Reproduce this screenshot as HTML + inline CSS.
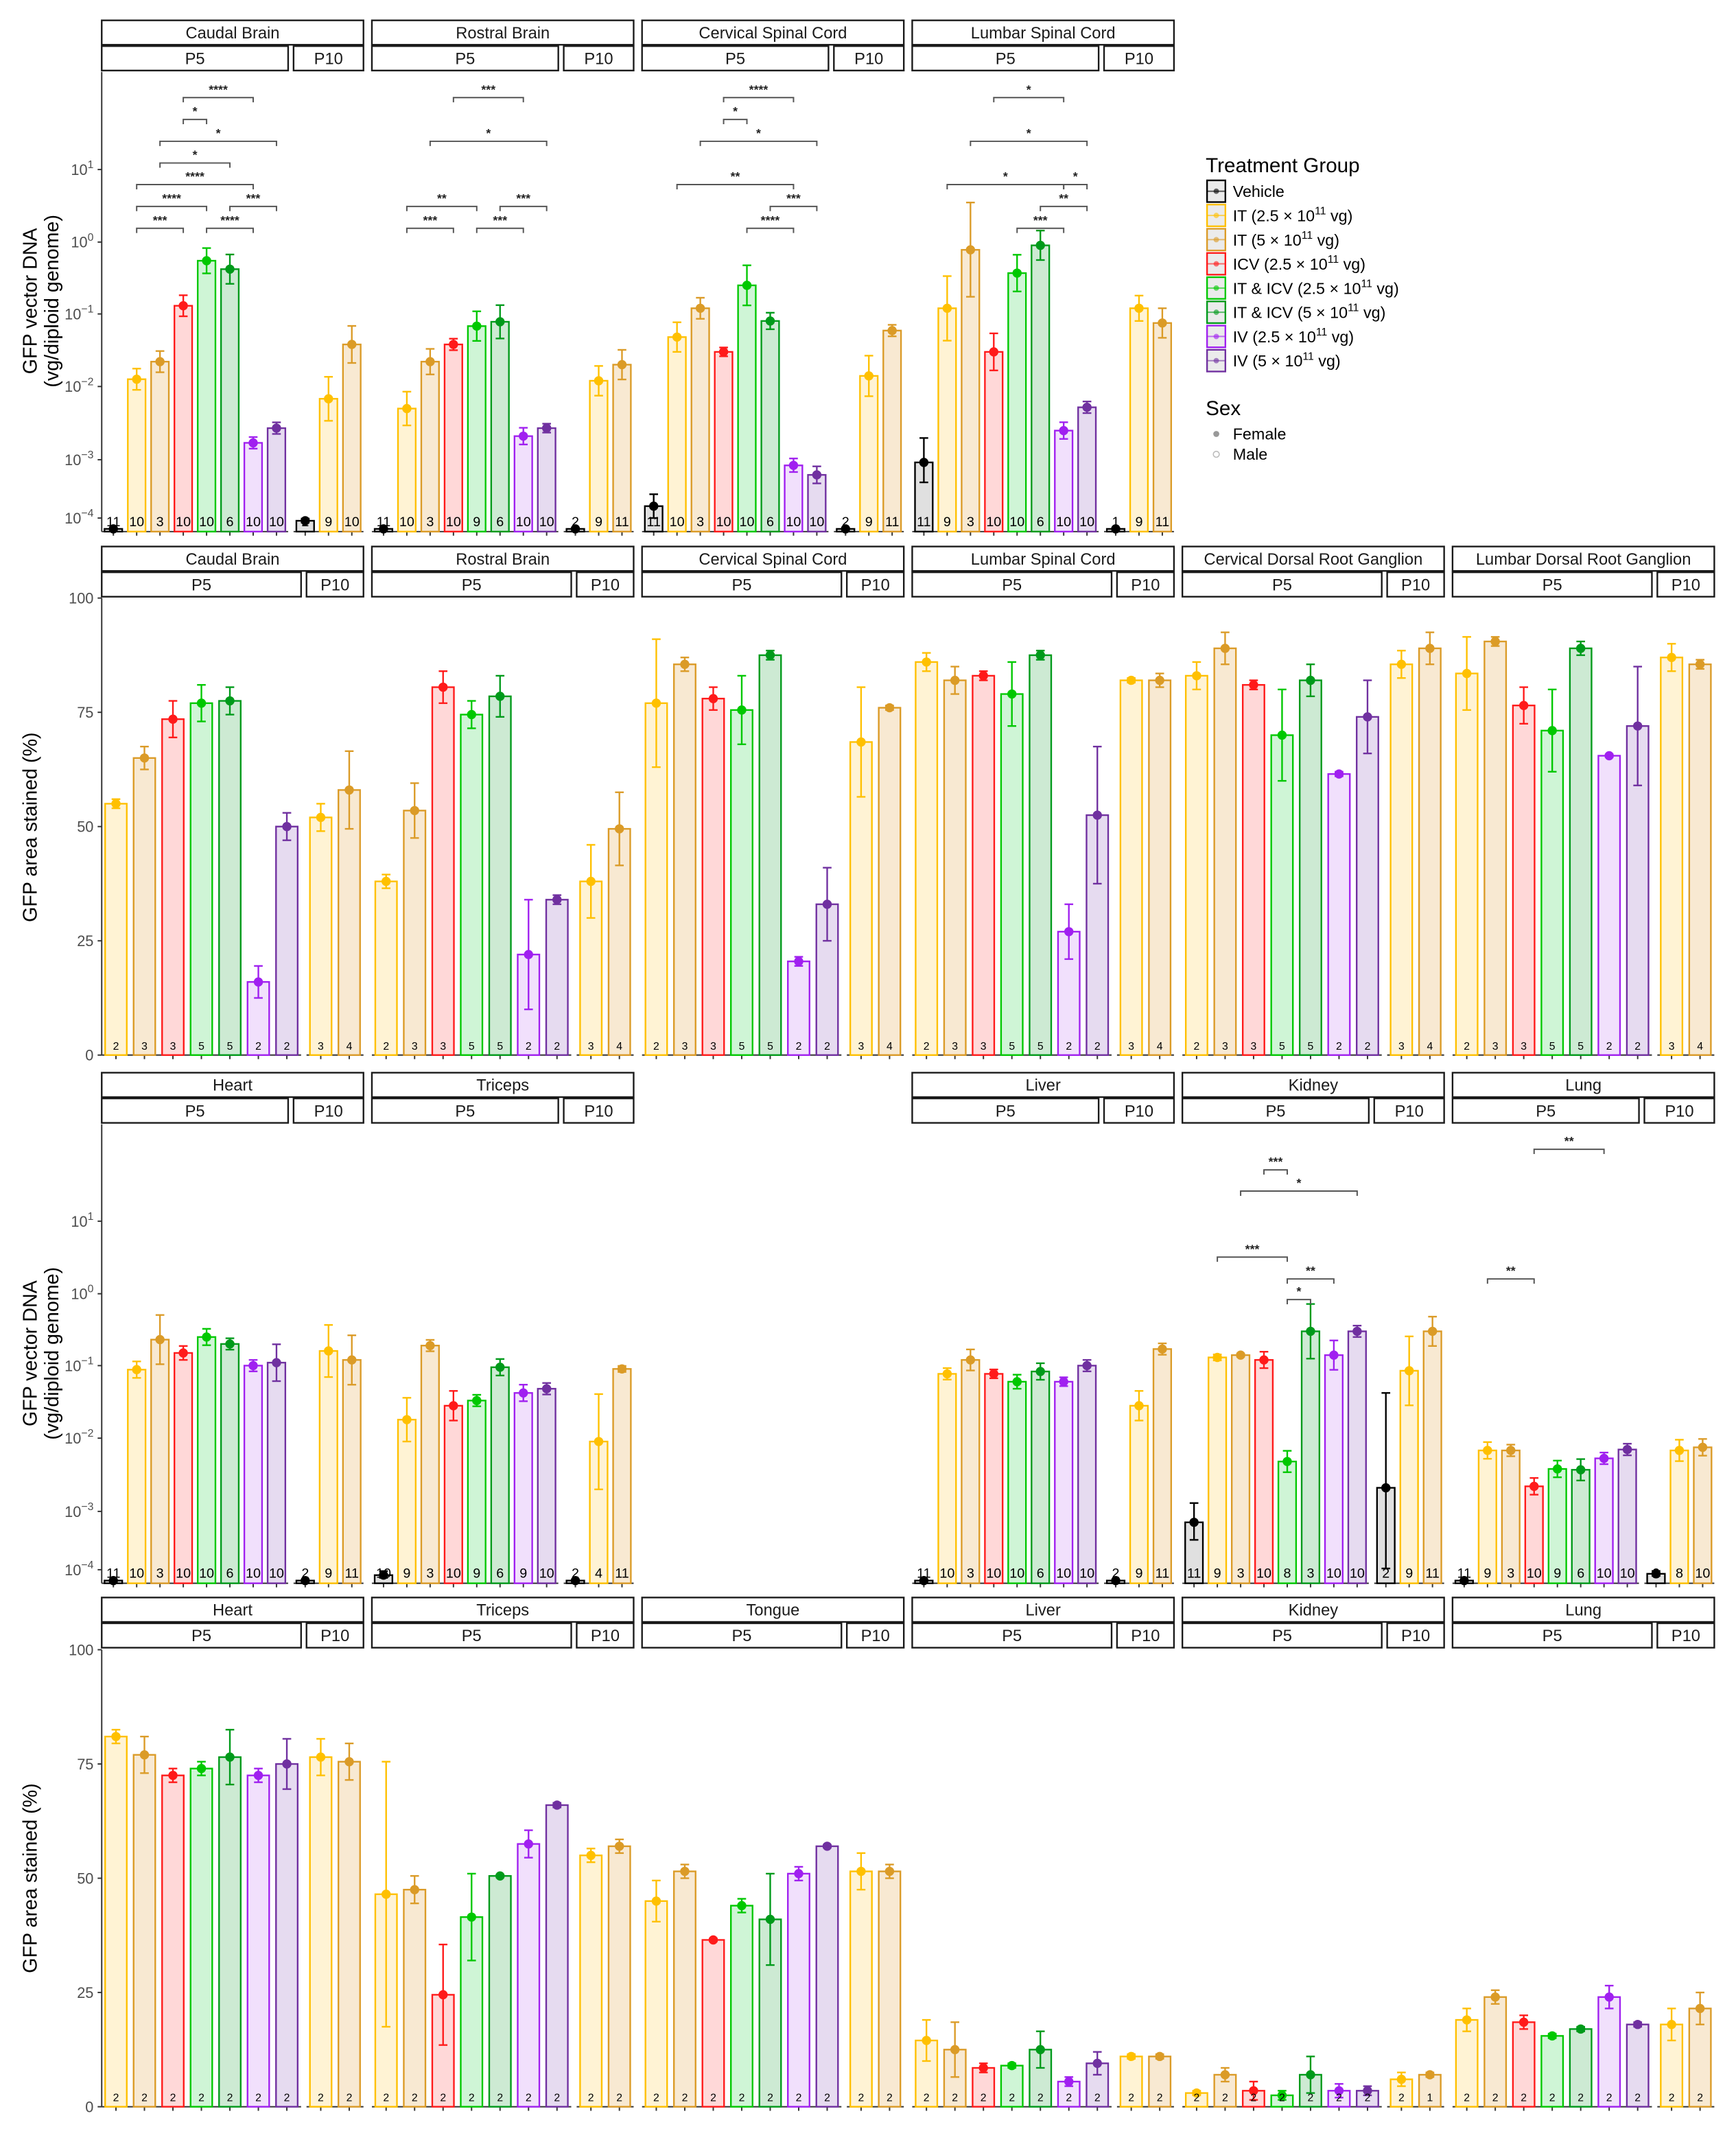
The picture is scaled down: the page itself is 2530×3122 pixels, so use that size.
<!DOCTYPE html>
<html><head><meta charset="utf-8"><style>
html,body{margin:0;padding:0;background:#fff}
svg{display:block}
text{font-family:"Liberation Sans",Arial,sans-serif}
</style></head><body>
<svg id="chart" xmlns="http://www.w3.org/2000/svg" width="2530" height="3122" viewBox="0 0 1280 1579.5">
<rect x="0" y="0" width="1280" height="1579.5" fill="#fff"/>
<g font-size="14.5" fill="#000" text-anchor="middle">
<text transform="translate(27,222) rotate(-90)">GFP vector DNA</text>
<text transform="translate(43,222) rotate(-90)">(vg/diploid genome)</text>
</g>
<g font-size="14.5" fill="#000" text-anchor="middle">
<text transform="translate(27,610) rotate(-90)">GFP area stained (%)</text>
</g>
<g font-size="14.5" fill="#000" text-anchor="middle">
<text transform="translate(27,998) rotate(-90)">GFP vector DNA</text>
<text transform="translate(43,998) rotate(-90)">(vg/diploid genome)</text>
</g>
<g font-size="14.5" fill="#000" text-anchor="middle">
<text transform="translate(27,1385) rotate(-90)">GFP area stained (%)</text>
</g>
<g id="legend"></g>
<g id="plots"></g>
</svg>
<script>
// ---------- data ----------
const groupsDNA = ['Vehicle','IT 2.5','IT 5','ICV 2.5','IT&ICV 2.5','IT&ICV 5','IV 2.5','IV 5'];
const groupsDNA10 = ['Vehicle','IT 2.5','IT 5'];
const groupsHist = ['IT 2.5','IT 5','ICV 2.5','IT&ICV 2.5','IT&ICV 5','IV 2.5','IV 5'];
const groupsHist10 = ['IT 2.5','IT 5'];

// row 1 (vg/diploid genome)
const row1Tissues = ['Caudal Brain','Rostral Brain','Cervical Spinal Cord','Lumbar Spinal Cord'];
const row1P5 = [
 [2e-5,0.0126,0.022,0.13,0.55,0.42,0.0017,0.0027],
 [2e-5,0.005,0.022,0.038,0.068,0.078,0.0021,0.0027],
 [1.6e-4,0.048,0.12,0.03,0.25,0.08,0.0008,0.00055],
 [9e-4,0.12,0.78,0.03,0.37,0.9,0.0025,0.0052]];
const row1P10 = [[8e-5,0.0068,0.038],[2e-5,0.012,0.02],[2e-5,0.014,0.059],[2e-5,0.12,0.075]];
const row1ErrP5 = [[1,1.4,1.4,1.4,1.5,1.6,1.2,1.2],[1,1.7,1.5,1.2,1.6,1.7,1.3,1.15],[1.6,1.6,1.4,1.15,1.9,1.3,1.3,1.4],[2.2,2.8,4.5,1.8,1.8,1.6,1.3,1.2]];
const row1ErrP10 = [[1.2,2.0,1.8],[1,1.6,1.6],[1,1.9,1.2],[1,1.5,1.6]];
const row1NP5 = [[11,10,3,10,10,6,10,10],[11,10,3,10,9,6,10,10],[11,10,3,10,10,6,10,10],[11,9,3,10,10,6,10,10]];
const row1NP10 = [[2,9,10],[2,9,11],[2,9,11],[1,9,11]];
const row1Brackets = [
 [[3,6,98,'****'],[3,4,49,'*'],[2,7,24.5,'*'],[2,5,12.3,'*'],[1,6,6.2,'****'],[1,4,3.1,'****'],[5,7,3.1,'***'],[1,3,1.55,'***'],[4,6,1.55,'****']],
 [[3,6,98,'***'],[2,7,24.5,'*'],[1,4,3.1,'**'],[5,7,3.1,'***'],[1,3,1.55,'***'],[4,6,1.55,'***']],
 [[3,6,98,'****'],[3,4,49,'*'],[2,7,24.5,'*'],[1,6,6.2,'**'],[5,7,3.1,'***'],[4,6,1.55,'****']],
 [[3,6,98,'*'],[2,7,24.5,'*'],[1,6,6.2,'*'],[6,7,6.2,'*'],[5,7,3.1,'**'],[4,6,1.55,'***']]];

// row 3 (vg/diploid genome)
const row3Tissues = ['Heart','Triceps',null,'Liver','Kidney','Lung'];
const row3P5 = [
 [2e-5,0.088,0.23,0.15,0.25,0.2,0.1,0.11],
 [6e-5,0.018,0.19,0.028,0.033,0.095,0.042,0.048],
 null,
 [2e-5,0.077,0.12,0.077,0.06,0.083,0.06,0.1],
 [6.5e-4,0.13,0.14,0.12,0.0048,0.3,0.14,0.3],
 [2e-5,0.0068,0.0068,0.0022,0.0038,0.0037,0.0053,0.007]];
const row3P10 = [[2e-5,0.16,0.12],[2e-5,0.009,0.09],null,[2e-5,0.028,0.17],[0.0021,0.085,0.3],[7e-5,0.0068,0.0075]];
const row3ErrP5 = [[1,1.3,2.2,1.25,1.3,1.2,1.2,1.8],[1.5,2.0,1.2,1.6,1.2,1.3,1.3,1.2],null,[1,1.2,1.4,1.15,1.25,1.3,1.15,1.2],[2,1.1,1.05,1.3,1.4,2.4,1.6,1.2],[1,1.3,1.2,1.3,1.3,1.4,1.2,1.2]];
const row3ErrP10 = [[1,2.3,2.2],[1,4.5,1.1],null,[1,1.6,1.2],[20,3,1.6],[1.3,1.4,1.3]];
const row3NP5 = [[11,10,3,10,10,6,10,10],[10,9,3,10,9,6,9,10],null,[11,10,3,10,10,6,10,10],[11,9,3,10,8,3,10,10],[11,9,3,10,9,6,10,10]];
const row3NP10 = [[2,9,11],[2,4,11],null,[2,9,11],[2,9,11],[2,8,10]];
const row3Brackets = [[],[],null,[],
 [[3,4,51,'***'],[2,7,26,'*'],[1,4,3.2,'***'],[4,6,1.6,'**'],[4,5,0.83,'*']],
 [[3,6,98,'**'],[1,3,1.6,'**']]];

// row 2 (% area)
const row2Tissues = ['Caudal Brain','Rostral Brain','Cervical Spinal Cord','Lumbar Spinal Cord','Cervical Dorsal Root Ganglion','Lumbar Dorsal Root Ganglion'];
const row2P5 = [[55,65,73.5,77,77.5,16,50],[38,53.5,80.5,74.5,78.5,22,34],[77,85.5,78,75.5,87.5,20.5,33],[86,82,83,79,87.5,27,52.5],[83,89,81,70,82,61.5,74],[83.5,90.5,76.5,71,89,65.5,72]];
const row2P10 = [[52,58],[38,49.5],[68.5,76],[82,82],[85.5,89],[87,85.5]];
const row2SemP5 = [[1,2.5,4,4,3,3.5,3],[1.5,6,3.5,3,4.5,12,1],[14,1.5,2.5,7.5,1,1,8],[2,3,1,7,1,6,15],[3,3.5,1,10,3.5,0.5,8],[8,1,4,9,1.5,0.3,13]];
const row2SemP10 = [[3,8.5],[8,8],[12,0.5],[0.5,1.5],[3,3.5],[3,1]];
const row2NP5 = [[2,3,3,5,5,2,2],[2,3,3,5,5,2,2],[2,3,3,5,5,2,2],[2,3,3,5,5,2,2],[2,3,3,5,5,2,2],[2,3,3,5,5,2,2]];
const row2NP10 = [[3,4],[3,4],[3,4],[3,4],[3,4],[3,4]];

// row 4 (% area)
const row4Tissues = ['Heart','Triceps','Tongue','Liver','Kidney','Lung'];
const row4P5 = [[81,77,72.5,74,76.5,72.5,75],[46.5,47.5,24.5,41.5,50.5,57.5,66],[45,51.5,36.5,44,41,51,57],[14.5,12.5,8.5,9,12.5,5.5,9.5],[3,7,3.5,2.5,7,3.5,3.5],[19,24,18.5,15.5,17,24,18]];
const row4P10 = [[76.5,75.5],[55,57],[51.5,51.5],[11,11],[6,7],[18,21.5]];
const row4SemP5 = [[1.5,4,1.5,1.5,6,1.5,5.5],[29,3,11,9.5,0.3,3,0.5],[4.5,1.5,0.3,1.5,10,1.5,0.3],[4.5,6,1,0.5,4,1,2.5],[0.5,1.5,2,1,4,1.5,1],[2.5,1.5,1.5,0.5,0.5,2.5,0.5]];
const row4SemP10 = [[4,4],[1.5,1.5],[4,1.5],[0.5,0.5],[1.5,0.5],[3.5,3.5]];
const row4NP5 = [[2,2,2,2,2,2,2],[2,2,2,2,2,2,2],[2,2,2,2,2,2,2],[2,2,2,2,2,2,2],[2,2,2,2,2,2,2],[2,2,2,2,2,2,2]];
const row4NP10 = [[2,2],[2,2],[2,2],[2,2],[2,1],[2,2]];

const logTickExp = [-4,-3,-2,-1,0,1];
const linTicks = [0,25,50,75,100];

// ---------- styling ----------
const strokeC = {'Vehicle':'#000000','IT 2.5':'#FFC000','IT 5':'#DB9B27','ICV 2.5':'#FF1A1A','IT&ICV 2.5':'#00C800','IT&ICV 5':'#009A1A','IV 2.5':'#A020F0','IV 5':'#7030A0'};
const fillC = {'Vehicle':'#e0e0e0','IT 2.5':'#FFF3D4','IT 5':'#F8E9D2','ICV 2.5':'#FFD8D8','IT&ICV 2.5':'#CFF5D6','IT&ICV 5':'#CDEAD3','IV 2.5':'#F1E0FC','IV 5':'#E6DBF0'};
const NS='http://www.w3.org/2000/svg';
const plots=document.getElementById('plots');
function mk(tag,attrs,parent){const e=document.createElementNS(NS,tag);for(const k in attrs)e.setAttribute(k,attrs[k]);(parent||plots).appendChild(e);return e;}

const colX = c => 75 + c*199.2;
const PW = 193;

// axis functions
function makeLogY(T,base){
  return function(v){
    if(v<=0) return base;
    if(v<1e-4) return base-(v/1e-4)*(base-T[0]);
    const lg=Math.log10(v);
    if(lg>=1) return T[5]-(lg-1)*(T[4]-T[5]);
    const i=Math.floor(lg)+4;const f=lg-Math.floor(lg);
    return T[i]+(T[i+1]-T[i])*f;
  };
}
function makeLinY(y0,y100){return v=>y0-(v/100)*(y0-y100);}

function strip(x,y,w,label,name){
  const g=mk('g',{});
  
  
  mk('rect',{x:x,y:y,width:w,height:18,fill:'#fff',stroke:'#1a1a1a','stroke-width':1.2},g);
  const t=mk('text',{x:x+w/2,y:y+13.3,'text-anchor':'middle','font-size':12,fill:'#1a1a1a'},g);
  t.textContent=label;
}

function drawGroup(g,cats,vals,errLo,errHi,ns,x0,slot,yf,base,countSize,tag){
  // axis line + ticks
  const ax=mk('line',{x1:x0,x2:x0+slot*cats.length,y1:base,y2:base,stroke:'#333','stroke-width':1},g);
  
  
  cats.forEach((c,i)=>{
    const cx=x0+slot*(i+0.5);
    mk('line',{x1:cx,x2:cx,y1:base,y2:base+3,stroke:'#333','stroke-width':1},g);
    const v=vals[i];const yv=yf(v);const bw=slot*0.76;
    const bar=mk('rect',{x:cx-bw/2,y:Math.min(yv,base),width:bw,height:Math.max(0.5,base-yv),fill:fillC[c],stroke:strokeC[c],'stroke-width':1.2},g);
    
    
    const yl=yf(errLo[i]),yh=yf(errHi[i]);
    const col=strokeC[c];
    const eb=mk('g',{stroke:col,'stroke-width':1.2},g);
    
    
    mk('line',{x1:cx,x2:cx,y1:yl,y2:yh},eb);
    mk('line',{x1:cx-3.2,x2:cx+3.2,y1:yl,y2:yl},eb);
    mk('line',{x1:cx-3.2,x2:cx+3.2,y1:yh,y2:yh},eb);
    const pt=mk('circle',{cx:cx,cy:yv,r:3.4,fill:col},g);
    
    
    const t=mk('text',{x:cx,y:base-4,'text-anchor':'middle','font-size':countSize,fill:'#000'},g);
    
    
    t.textContent=ns[i];
  });
}

function bracket(g,x1,x2,y,label){
  const b=mk('g',{},g);
  
  
  mk('path',{d:`M${x1},${y+3.5}V${y}H${x2}V${y+3.5}`,fill:'none',stroke:'#555','stroke-width':1},b);
  const t=mk('text',{x:(x1+x2)/2,y:y-3,'text-anchor':'middle','font-size':9,'font-weight':'bold',fill:'#222'},b);
  t.textContent=label;
}

function dnaRow(sy,tissues,P5,P10,E5,E10,N5,N10,BR,T,base,rowTag){
  const yf=makeLogY(T,base);
  const slot=(PW-4)/11;
  tissues.forEach((tis,c)=>{
    if(!tis) return;
    const x=colX(c);
    const g=mk('g',{});
    
    
    strip(x,sy,PW,tis,'facet-strip-tissue');
    const p5w=slot*8, p10x=x+p5w+4;
    strip(x,sy+19,p5w,'P5','facet-strip-p5');
    strip(p10x,sy+19,slot*3,'P10','facet-strip-p10');
    const lo5=P5[c].map((v,i)=>v/E5[c][i]),hi5=P5[c].map((v,i)=>v*E5[c][i]);
    const lo10=P10[c].map((v,i)=>v/E10[c][i]),hi10=P10[c].map((v,i)=>v*E10[c][i]);
    drawGroup(g,groupsDNA,P5[c],lo5,hi5,N5[c],x,slot,yf,base,10,'p5');
    drawGroup(g,groupsDNA10,P10[c],lo10,hi10,N10[c],p10x,slot,yf,base,10,'p10');
    (BR[c]||[]).forEach(b=>{
      bracket(g,x+slot*(b[0]+0.5),x+slot*(b[1]+0.5),yf(b[2]),b[3]);
    });
  });
  // y axis
  const ya=mk('g',{});
  
  
  mk('line',{x1:75,x2:75,y1:sy+38,y2:base,stroke:'#333','stroke-width':1},ya);
  logTickExp.forEach(e=>{
    const y=yf(Math.pow(10,e));
    mk('line',{x1:72,x2:75,y1:y,y2:y,stroke:'#333','stroke-width':1},ya);
    const t=mk('text',{x:69,y:y+4,'text-anchor':'end','font-size':11,fill:'#4d4d4d'},ya);
    
    
    t.appendChild(document.createTextNode('10'));
    const s=mk('tspan',{dy:-5,'font-size':8},t);
    s.textContent=(e<0?'\u2212'+(-e):String(e));
  });
}

function histRow(sy,tissues,P5,P10,S5,S10,N5,N10,y0,y100,rowTag){
  const yf=makeLinY(y0,y100);
  const slot=(PW-4)/9;
  tissues.forEach((tis,c)=>{
    const x=colX(c);
    const g=mk('g',{});
    
    
    strip(x,sy,PW,tis,'facet-strip-tissue');
    const p5w=slot*7,p10x=x+p5w+4;
    strip(x,sy+19,p5w,'P5','facet-strip-p5');
    strip(p10x,sy+19,slot*2,'P10','facet-strip-p10');
    const lo5=P5[c].map((v,i)=>Math.max(0,v-S5[c][i])),hi5=P5[c].map((v,i)=>v+S5[c][i]);
    const lo10=P10[c].map((v,i)=>Math.max(0,v-S10[c][i])),hi10=P10[c].map((v,i)=>v+S10[c][i]);
    drawGroup(g,groupsHist,P5[c],lo5,hi5,N5[c],x,slot,yf,y0,8,'p5');
    drawGroup(g,groupsHist10,P10[c],lo10,hi10,N10[c],p10x,slot,yf,y0,8,'p10');
  });
  const ya=mk('g',{});
  
  
  mk('line',{x1:75,x2:75,y1:y100,y2:y0,stroke:'#333','stroke-width':1},ya);
  linTicks.forEach(v=>{
    const y=yf(v);
    mk('line',{x1:72,x2:75,y1:y,y2:y,stroke:'#333','stroke-width':1},ya);
    const t=mk('text',{x:69,y:y+4,'text-anchor':'end','font-size':11,fill:'#4d4d4d'},ya);
    
    
    t.textContent=v;
  });
}

dnaRow(15,row1Tissues,row1P5,row1P10,row1ErrP5,row1ErrP10,row1NP5,row1NP10,row1Brackets,[382,339,285,231.5,178.5,125],392,'row1');
histRow(403,row2Tissues,row2P5,row2P10,row2SemP5,row2SemP10,row2NP5,row2NP10,778,441,'row2');
dnaRow(791,row3Tissues,row3P5,row3P10,row3ErrP5,row3ErrP10,row3NP5,row3NP10,row3Brackets,[1157.5,1114.5,1060.5,1007,954,900.5],1167.5,'row3');
histRow(1178,row4Tissues,row4P5,row4P10,row4SemP5,row4SemP10,row4NP5,row4NP10,1553.5,1216.5,'row4');

// ---------- legend ----------
const legendLabels = [['Vehicle',null],['IT (2.5','vg)'],['IT (5','vg)'],['ICV (2.5','vg)'],['IT & ICV (2.5','vg)'],['IT & ICV (5','vg)'],['IV (2.5','vg)'],['IV (5','vg)']];
const lg=document.getElementById('legend');
const tt=mk('text',{x:889,y:127,'font-size':15,fill:'#000'},lg);
tt.textContent='Treatment Group';
groupsDNA.forEach((c,i)=>{
  const cy=141+i*17.85;
  const e=mk('g',{},lg);
  
  
  mk('rect',{x:890,y:cy-8,width:13.5,height:16,fill:'#ebebeb',stroke:strokeC[c],'stroke-width':1.2},e);
  mk('line',{x1:890,x2:903.5,y1:cy,y2:cy,stroke:strokeC[c],'stroke-width':1,opacity:0.6},e);
  mk('circle',{cx:896.8,cy:cy,r:2,fill:strokeC[c],opacity:0.6},e);
  const t=mk('text',{x:909,y:cy+4.3,'font-size':11.8,fill:'#000'},e);
  const L=legendLabels[i];
  if(!L[1]){t.textContent=L[0];}
  else{
    t.appendChild(document.createTextNode(L[0]+' \u00d7 10'));
    const s=mk('tspan',{dy:-5,'font-size':8},t);s.textContent='11';
    const s2=mk('tspan',{dy:5},t);s2.textContent=' '+L[1];
  }
});
const st=mk('text',{x:889,y:306,'font-size':15,fill:'#000'},lg);
st.textContent='Sex';
const fe=mk('g',{},lg);


mk('circle',{cx:896.8,cy:320,r:2.2,fill:'#999'},fe);
const ft=mk('text',{x:909,y:324,'font-size':11.8,fill:'#000'},fe);ft.textContent='Female';
const ma=mk('g',{},lg);


mk('circle',{cx:896.8,cy:335,r:2.2,fill:'none',stroke:'#bbb','stroke-width':0.8},ma);
const mt=mk('text',{x:909,y:339,'font-size':11.8,fill:'#000'},ma);mt.textContent='Male';
</script>
</body></html>
